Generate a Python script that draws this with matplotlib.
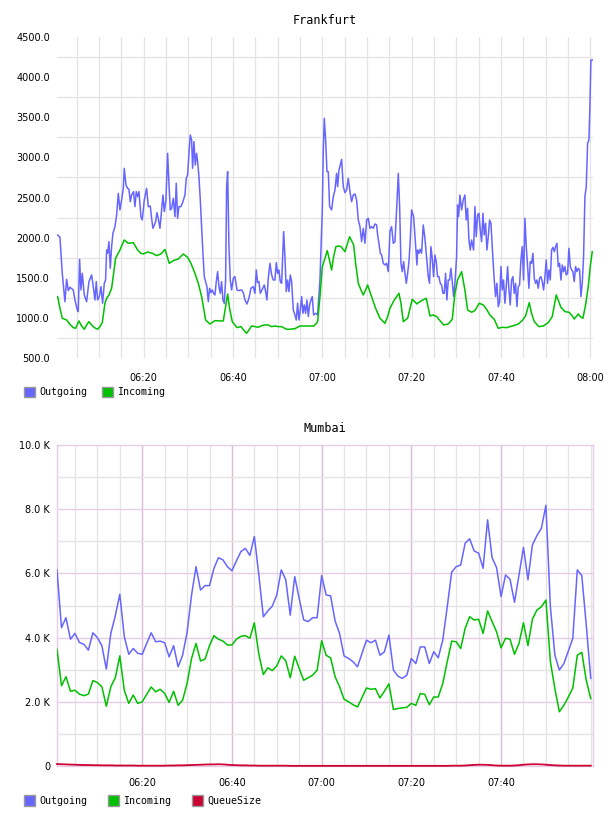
import matplotlib
matplotlib.use("Agg")
import matplotlib.pyplot as plt
from matplotlib.patches import Rectangle

# ---------------- data ----------------
# Frankfurt (minutes after 06:00)
fra_out_t = [0.74, 1.26, 1.78, 2.38, 2.75, 3.13, 3.50, 4.24, 4.62, 5.14,
             5.36, 5.66, 5.96, 6.26, 6.71, 7.23, 7.75, 8.35, 8.72, 9.10,
             9.39, 9.69, 10.07, 10.44, 10.81, 11.19, 11.48, 11.71, 11.93, 12.23,
             12.53, 12.83, 13.12, 13.57, 13.95, 14.32, 14.69, 15.07, 15.44, 15.66,
             16.04, 16.41, 16.71, 17.01, 17.30, 17.75, 18.05, 18.35, 18.65, 18.95,
             19.39, 19.69, 20.14, 20.66, 21.04, 21.48, 21.78, 22.08, 22.38, 22.68,
             22.97, 23.27, 23.65, 24.02, 24.32, 24.62, 24.99, 25.36, 25.66, 25.96,
             26.26, 26.63, 27.01, 27.30, 27.60, 27.90, 28.35, 28.80, 29.24, 29.54,
             29.84, 30.14, 30.44, 30.74, 30.96, 31.26, 31.56, 31.86, 32.08, 32.38,
             32.68, 32.98, 33.27, 33.57, 33.87, 34.17, 34.47, 34.77, 35.07, 35.36,
             35.66, 35.96, 36.26, 36.56, 36.86, 37.16, 37.45, 37.75, 38.05, 38.35,
             38.57, 38.80, 39.10, 39.39, 39.69, 40.07, 40.44, 40.89,
             41.34, 41.93, 42.31, 42.68, 43.13, 43.57, 44.02, 44.54, 44.92, 45.22,
             45.51, 45.81, 46.11, 46.56, 47.01, 47.31, 47.60, 47.90, 48.28, 48.65,
             49.02, 49.40, 49.69, 49.99, 50.29, 50.59, 50.89, 51.34, 51.63, 51.93,
             52.23, 52.53, 52.83, 53.13, 53.50, 53.87, 54.17, 54.47, 54.77, 55.07,
             55.37, 55.66, 55.96, 56.26, 56.56, 56.86, 57.16, 57.46, 57.75, 58.05,
             58.50, 58.95, 59.47, 59.99, 60.22, 60.44, 60.74, 61.04, 61.34, 61.63,
             62.08, 62.46, 62.83, 63.20, 63.43, 63.72, 64.02, 64.32, 64.69, 65.07,
             65.44, 65.81, 66.19, 66.56, 66.93, 67.31, 67.68, 68.05, 68.43, 68.80,
             69.17, 69.54, 69.92, 70.29, 70.66, 71.04, 71.41, 71.78, 72.16, 72.38,
             72.68, 72.98, 73.28, 73.65, 74.02, 74.40, 74.77, 75.14, 75.51, 75.89,
             76.26, 76.63, 77.01, 77.31, 77.60, 77.90, 78.20, 78.50, 78.80, 79.10,
             79.40, 79.69, 79.99, 80.44, 80.89, 81.19,
             81.33, 81.63, 81.92, 82.22, 82.60, 82.97, 83.34, 83.72, 84.01, 84.31,
             84.61, 84.91, 85.21, 85.51, 85.80, 86.10, 86.40, 86.70, 87.00, 87.30,
             87.60, 87.89, 88.19, 88.49, 88.79, 89.09, 89.39, 89.69, 90.06, 90.28,
             90.51, 90.80, 91.18, 91.55, 91.92, 92.22, 92.52, 92.82, 93.12, 93.42,
             93.87, 94.16, 94.46, 94.76, 95.06, 95.36, 95.66, 95.96, 96.25, 96.55,
             96.85, 97.15, 97.45, 97.75, 98.19, 98.49, 98.79, 99.09, 99.39, 99.69,
             99.99, 100.28, 100.58, 100.88, 101.18, 101.48, 101.78, 102.07, 102.37, 102.67,
             102.97, 103.27, 103.57, 103.87, 104.16, 104.46, 104.76, 105.06, 105.36, 105.66,
             105.96, 106.25, 106.55, 106.85, 107.15, 107.45, 107.75, 108.04, 108.34, 108.64,
             108.94, 109.24, 109.54, 109.84, 110.13, 110.43, 110.73, 111.03, 111.33, 111.63,
             111.93, 112.22, 112.52, 112.82, 113.12, 113.42, 113.72, 114.01, 114.31, 114.61,
             114.91, 115.21, 115.51, 115.81, 116.10, 116.40, 116.70, 117.00, 117.30, 117.60,
             117.90, 118.19, 118.49, 118.79, 119.09, 119.39, 119.69, 119.91, 120.13, 120.43]
fra_out_v = [2033, 2004, 1555, 1202, 1481, 1340, 1381, 1348, 1223, 1099,
             1078, 1730, 1348, 1555, 1285, 1202, 1452, 1535, 1389, 1223,
             1452, 1223, 1265, 1389, 1182, 1431, 1472, 1846, 1805, 1950,
             1618, 1888, 2054, 2137, 2282, 2552, 2345, 2469, 2614, 2864,
             2656, 2614, 2602, 2448, 2531, 2573, 2386, 2573, 2511, 2573,
             2261, 2220, 2469, 2614, 2386, 2394, 2241, 2116, 2158, 2199,
             2311, 2241, 2116, 2345, 2531, 2324, 2469, 3051, 2677, 2345,
             2365, 2490, 2261, 2677, 2241, 2386, 2386, 2448, 2531, 2739,
             2781, 3051, 3279, 3217, 2864, 3196, 2905, 3051, 2947, 2760,
             2469, 2137, 1805, 1514, 1452, 1389, 1202, 1369, 1315, 1348,
             1306, 1285, 1452, 1576, 1389, 1306, 1452, 1223, 1182, 1472,
             2614, 2822, 1888, 1472, 1348, 1493, 1514, 1348,
             1340, 1348, 1315, 1223, 1173, 1244, 1369, 1389, 1306, 1597,
             1439, 1452, 1306, 1356, 1410, 1327, 1223, 1493, 1680, 1535,
             1472, 1472, 1688, 1555, 1597, 1452, 1431, 2075, 1763, 1327,
             1472, 1327, 1535, 1452, 1099, 1036, 974, 1182, 974, 1099,
             1265, 1057, 1161, 1057, 1223, 1016, 1161, 1223, 1265, 1036,
             1057, 1036, 1472, 2345, 3092, 3487, 3217, 2822, 2822, 2386,
             2345, 2511, 2594, 2801, 2635, 2843, 2905, 2976, 2635, 2560,
             2594, 2739, 2573, 2448, 2531, 2544, 2469, 2220, 2137, 1950,
             2116, 1929, 2220, 2241, 2116, 2137, 2116, 2170, 2158, 2033,
             1929, 1805, 1784, 1680, 1659, 1680, 1576, 2075, 2137, 1929,
             1950, 2345, 2801, 2386, 1680, 1576, 1701, 1555, 1431, 1555,
             1701, 1971, 2345, 2261, 1888, 1659,
             1846, 1805, 1855, 1805, 2158, 1992, 1763, 1514, 1431, 1888,
             1742, 1514, 1784, 1701, 1514, 1514, 1431, 1410, 1306, 1306,
             1555, 1223, 1472, 1472, 1618, 1452, 1265, 1431, 1763, 2407,
             2261, 2531, 2345, 2469, 2531, 2220, 2365, 1971, 1846, 1971,
             1846, 2386, 2012, 2282, 2303, 2095, 1950, 2303, 2033, 2178,
             1846, 2012, 2220, 2178, 1742, 1472, 1265, 1431, 1140, 1202,
             1639, 1348, 1472, 1182, 1389, 1639, 1348, 1161, 1472, 1514,
             1306, 1431, 1140, 1389, 1410, 1722, 1888, 1472, 2241, 1888,
             1639, 1369, 1701, 1680, 1805, 1493, 1431, 1472, 1369, 1493,
             1514, 1452, 1348, 1514, 1722, 1431, 1597, 1472, 1846, 1879,
             1825, 1888, 1929, 1639, 1680, 1472, 1659, 1576, 1639, 1535,
             1555, 1867, 1639, 1597, 1576, 1452, 1639, 1576, 1618, 1597,
             1265, 1431, 1763, 2511, 2635, 3175, 3217, 3632, 4213, 4213]

fra_in_t = [0.74, 1.26, 1.78, 2.75, 3.50, 4.24, 4.77, 5.51, 6.11, 6.71,
            7.23, 7.75, 8.35, 8.95, 9.69, 10.21, 10.74, 11.33, 11.71, 12.23,
            12.83, 13.72, 14.69, 15.66, 16.56, 17.68, 18.65, 19.39, 19.92, 20.89,
            21.93, 22.90, 23.87, 24.77, 25.74, 26.63, 27.75, 28.87, 29.84, 30.59,
            31.48, 32.23, 32.98, 33.50, 33.87, 34.84, 35.96, 37.08, 37.83, 38.80,
            39.24, 39.84, 40.89,
            41.78, 42.38, 43.05, 43.57, 44.17, 44.92, 45.66, 46.26, 47.01, 47.90,
            48.65, 49.40, 50.14, 50.89, 52.01, 52.75, 53.87, 54.99, 56.11, 57.23,
            58.13, 58.95, 59.54, 59.99, 60.59, 61.11, 61.63, 62.08, 62.53, 63.05,
            63.57, 64.17, 65.07, 66.11, 67.01, 67.46, 68.05, 68.65, 69.17, 69.69,
            70.14, 71.04, 71.93, 72.90, 74.02, 74.62, 75.14, 76.11, 77.16, 77.60,
            78.13, 79.10, 80.14, 81.19,
            81.33, 82.22, 83.27, 84.09, 84.83, 85.58, 86.33, 87.15, 88.19, 89.09,
            89.69, 90.28, 91.18, 91.92, 92.52, 93.42, 94.16, 95.13, 96.03, 96.78,
            97.52, 98.49, 99.39, 100.28, 101.25, 102.00, 102.82, 103.87, 104.76, 105.51,
            106.33, 106.85, 107.45, 108.49, 109.46, 110.58, 111.48, 112.37, 113.42, 114.31,
            115.21, 115.81, 116.40, 117.30, 117.75, 118.34, 118.94, 119.54, 119.99, 120.43]
fra_in_v = [1265, 1119, 995, 974, 920, 879, 870, 962, 899, 858,
            912, 953, 912, 879, 858, 891, 941, 1182, 1244, 1285,
            1369, 1742, 1846, 1971, 1929, 1937, 1846, 1805, 1796, 1821,
            1805, 1776, 1796, 1854, 1680, 1713, 1734, 1796, 1755, 1680,
            1555, 1431, 1265, 1099, 974, 924, 966, 962, 962, 1298,
            1119, 953, 879,
            891, 849, 808, 849, 899, 891, 883, 899, 912, 912,
            891, 899, 891, 891, 858, 858, 866, 899, 899, 899,
            899, 953, 1306, 1638, 1742, 1838, 1713, 1597, 1763, 1888,
            1896, 1888, 1825, 2012, 1908, 1680, 1431, 1348, 1285, 1348,
            1410, 1265, 1119, 995, 932, 1016, 1119, 1223, 1306, 1182,
            953, 995, 1232, 1173,
            1182, 1215, 1244, 1024, 1036, 1016, 966, 912, 924, 982,
            1306, 1472, 1576, 1348, 1099, 1070, 1091, 1182, 1161, 1107,
            1036, 982, 870, 883, 878, 891, 903, 924, 966, 1024,
            1190, 1057, 953, 891, 899, 941, 1016, 1286, 1132, 1078,
            1070, 1036, 986, 1049, 1016, 995, 1161, 1389, 1639, 1825]

# Mumbai (one value per minute, 06:01 .. 08:00)
mum_minutes = list(range(1, 121))
mum_out = [6110, 4310, 4620, 3950, 4130, 3850, 3790, 3610, 4150, 4000,
           3750, 3020, 4130, 4680, 5350, 4030, 3480, 3660, 3510, 3480,
           3820, 4150, 3870, 3890, 3840, 3400, 3750, 3090, 3450, 4160,
           5330, 6210, 5480, 5620, 5620, 6160, 6490, 6420, 6210, 6080,
           6390, 6680, 6780, 6560, 7150, 5950, 4650, 4830, 4980, 5330,
           6110, 5800, 4700, 5900, 5220, 4550, 4500, 4620, 4620, 5930,
           5330, 5300, 4520, 4130, 3430, 3350, 3250, 3090, 3510, 3920,
           3840, 3920, 3450, 3560, 4080, 2990, 2800, 2730, 2830, 3350,
           3190, 3710, 3710, 3190, 3560, 3370, 3920, 4960, 6040, 6210,
           6260, 6940, 7080, 6700, 6630, 6160, 7670, 6490, 6180, 5280,
           5950, 5820, 5100, 5950, 6810, 5800, 6890, 7180, 7410, 8120,
           4960, 3450, 2990, 3190, 3580, 3980, 6110, 5930, 4390, 2730]
mum_in = [3640, 2500, 2780, 2330, 2360, 2240, 2190, 2240, 2660, 2600,
          2470, 1860, 2470, 2750, 3430, 2360, 1950, 2210, 1950, 2000,
          2230, 2460, 2310, 2390, 2260, 1980, 2330, 1890, 2050, 2570,
          3350, 3820, 3270, 3330, 3750, 4060, 3950, 3890, 3770, 3770,
          3950, 4040, 4060, 3980, 4460, 3480, 2850, 3060, 2970, 3120,
          3430, 3280, 2750, 3420, 3040, 2670, 2750, 2830, 2990, 3900,
          3450, 3370, 2780, 2470, 2080, 2000, 1910, 1840, 2130, 2430,
          2390, 2410, 2120, 2330, 2560, 1760, 1790, 1810, 1830, 1950,
          1890, 2260, 2230, 1910, 2150, 2150, 2570, 3250, 3890, 3870,
          3660, 4290, 4650, 4550, 4570, 4130, 4830, 4500, 4180, 3680,
          3980, 3950, 3480, 3820, 4460, 3750, 4580, 4860, 4960, 5170,
          3250, 2410, 1690, 1890, 2150, 2430, 3450, 3540, 2670, 2100]
mum_queue = [60, 55, 50, 45, 40, 35, 30, 30, 25, 25,
             20, 20, 20, 15, 15, 15, 15, 15, 10, 10,
             10, 10, 10, 10, 10, 15, 15, 20, 20, 25,
             30, 35, 40, 45, 50, 50, 55, 50, 40, 30,
             25, 20, 20, 15, 15, 10, 10, 10, 10, 10,
             10, 10, 5, 5, 5, 5, 5, 5, 5, 5,
             5, 5, 5, 5, 5, 5, 5, 5, 5, 5,
             5, 5, 5, 5, 5, 5, 5, 5, 5, 5,
             5, 5, 5, 5, 5, 5, 5, 5, 10, 10,
             10, 15, 25, 35, 40, 40, 35, 25, 15, 10,
             10, 10, 15, 25, 40, 50, 55, 55, 50, 40,
             30, 20, 15, 10, 10, 10, 10, 10, 10, 10]

fra_yticks = [500, 1000, 1500, 2000, 2500, 3000, 3500, 4000, 4500]
mum_yticks = [0, 2000, 4000, 6000, 8000, 10000]
mum_ytick_labels = ["0", "2.0 K", "4.0 K", "6.0 K", "8.0 K", "10.0 K"]
fra_xticks = [20, 40, 60, 80, 100, 120]
fra_xtick_labels = ["06:20", "06:40", "07:00", "07:20", "07:40", "08:00"]
mum_xticks = [20, 40, 60, 80, 100]
mum_xtick_labels = ["06:20", "06:40", "07:00", "07:20", "07:40"]

# ---------------- style ----------------
C_OUT = "#6666ff"
C_IN = "#00c000"
C_Q = "#cc0033"
GRID = "#e4e4e4"
PINK_H = "#e6cce6"
PINK_V = "#d8bcd8"
MONO = "DejaVu Sans Mono"
SANS = "DejaVu Sans"

W, H = 608, 816
fig = plt.figure(figsize=(W / 100, H / 100), dpi=100)
fig.patch.set_facecolor("white")


def rect(l, t, r, b):
    return [l / W, 1 - b / H, (r - l) / W, (b - t) / H]


def legend_item(x, y, color, label):
    fig.add_artist(Rectangle((x / W, 1 - (y + 10.5) / H), 10.5 / W, 10.5 / H,
                             transform=fig.transFigure, facecolor=color,
                             edgecolor="#999999", lw=1.0))
    fig.text((x + 15) / W, 1 - (y + 5.5) / H, label, family=MONO, fontsize=7.2,
             ha="left", va="center", color="black")


# ---- Frankfurt ----
ax1 = fig.add_axes(rect(57, 37, 593, 358))
ax1.set_xlim(0.6, 120.6)
ax1.set_ylim(500, 4500)
for m in range(5, 121, 5):
    ax1.axvline(m, color=GRID, lw=0.9, zorder=0)
for v in range(750, 4500, 500):
    ax1.axhline(v, color=GRID, lw=0.9, zorder=0)
ax1.plot(fra_out_t, fra_out_v, color=C_OUT, lw=1.1, zorder=3)
ax1.plot(fra_in_t, fra_in_v, color=C_IN, lw=1.1, zorder=3)
for s in ax1.spines.values():
    s.set_visible(False)
ax1.set_yticks(fra_yticks)
ax1.set_yticklabels([f"{v:.1f}" for v in fra_yticks], family=SANS, fontsize=7)
ax1.set_xticks(fra_xticks)
ax1.set_xticklabels(fra_xtick_labels, family=SANS, fontsize=7)
ax1.tick_params(axis="y", length=0, pad=5)
ax1.tick_params(axis="x", length=0, pad=10.5)
fig.text(325 / W, 1 - 20 / H, "Frankfurt", family=MONO, fontsize=8.5,
         ha="center", va="center")
legend_item(24, 387, C_OUT, "Outgoing")
legend_item(102, 387, C_IN, "Incoming")

# ---- Mumbai ----
ax2 = fig.add_axes(rect(57, 445, 593, 766))
ax2.set_xlim(1, 120.5)
ax2.set_ylim(0, 10000)
for m in range(5, 121, 5):
    if m % 20 == 0 and m < 120:
        ax2.axvline(m, color=PINK_V, lw=1.0, zorder=0)
    else:
        ax2.axvline(m, color=GRID, lw=0.9, zorder=0)
for v in range(1000, 10000, 1000):
    ax2.axhline(v, color=PINK_H if v % 2000 == 0 else GRID, lw=1.0, zorder=0)
ax2.plot(mum_minutes, mum_out, color=C_OUT, lw=1.1, zorder=3)
ax2.plot(mum_minutes, mum_in, color=C_IN, lw=1.1, zorder=3)
ax2.plot(mum_minutes, mum_queue, color=C_Q, lw=1.3, zorder=4, clip_on=False)
for s in ax2.spines.values():
    s.set_color(PINK_H)
    s.set_linewidth(1.0)
ax2.set_yticks(mum_yticks)
ax2.set_yticklabels(mum_ytick_labels, family=SANS, fontsize=7)
ax2.set_xticks(mum_xticks)
ax2.set_xticklabels(mum_xtick_labels, family=SANS, fontsize=7)
ax2.tick_params(axis="y", length=0, pad=5)
ax2.tick_params(axis="x", length=0, pad=8.3)
fig.text(325 / W, 1 - 429 / H, "Mumbai", family=MONO, fontsize=8.5,
         ha="center", va="center")
legend_item(24, 795, C_OUT, "Outgoing")
legend_item(108, 795, C_IN, "Incoming")
legend_item(192, 795, C_Q, "QueueSize")

fig.savefig("out.png", dpi=100, facecolor="white")
